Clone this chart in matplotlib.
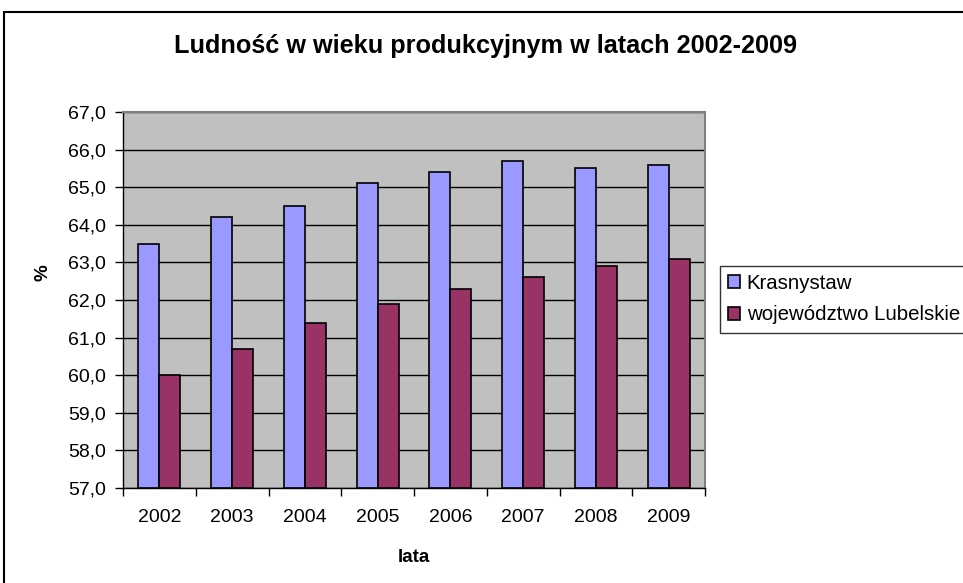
import matplotlib.pyplot as plt
import numpy as np
from matplotlib.patches import Rectangle
from matplotlib.ticker import FuncFormatter, FixedLocator

plt.rcParams["font.family"] = ["Liberation Sans", "DejaVu Sans"]

years = ["2002", "2003", "2004", "2005", "2006", "2007", "2008", "2009"]
krasnystaw = [63.5, 64.2, 64.5, 65.1, 65.4, 65.7, 65.5, 65.6]
lubelskie = [60.0, 60.7, 61.4, 61.9, 62.3, 62.6, 62.9, 63.1]
series_names = ["Krasnystaw", "województwo Lubelskie"]

W, H = 963, 583
fig = plt.figure(figsize=(W / 100, H / 100), dpi=100)
ax = fig.add_axes([123 / W, 1 - 488 / H, (705 - 123) / W, (488 - 112) / H])
ax.set_facecolor("#C0C0C0")

x = np.arange(len(years))
bw = 0.29
ymin = 57.0
ax.bar(x - bw / 2, np.array(krasnystaw) - ymin, bw, bottom=ymin, color="#9999FF",
       edgecolor="black", linewidth=1.2, label=series_names[0], zorder=3)
ax.bar(x + bw / 2, np.array(lubelskie) - ymin, bw, bottom=ymin, color="#993366",
       edgecolor="black", linewidth=1.2, label=series_names[1], zorder=3)

ax.set_ylim(57, 67)
ax.set_xlim(-0.5, len(years) - 0.5)
ax.set_yticks(np.arange(57, 67.1, 1))
ax.yaxis.set_major_formatter(FuncFormatter(lambda v, p: f"{v:.1f}".replace(".", ",")))
ax.grid(axis="y", color="black", linewidth=1, zorder=1)
ax.set_axisbelow(True)

ax.xaxis.set_major_locator(FixedLocator(np.arange(-0.5, len(years), 1)))
ax.xaxis.set_major_formatter(FuncFormatter(lambda v, p: ""))
ax.xaxis.set_minor_locator(FixedLocator(x))
ax.set_xticklabels(years, minor=True)
ax.tick_params(axis="x", which="minor", length=0, pad=15, labelsize=14)
ax.tick_params(axis="x", which="major", length=6, direction="out", width=1)
ax.tick_params(axis="y", length=6, direction="out", width=1, labelsize=14, pad=6)

for side in ["top", "right"]:
    ax.spines[side].set_color("#808080")
    ax.spines[side].set_linewidth(1.5)
for side in ["left", "bottom"]:
    ax.spines[side].set_color("black")
    ax.spines[side].set_linewidth(1)

fig.text(414 / W, 1 - 557 / H, "lata", ha="center", va="center",
         fontsize=13.5, fontweight="bold")
fig.text(43 / W, 1 - 273 / H, "%", ha="center", va="center", rotation=90,
         fontsize=13.5, fontweight="bold")

fig.text(486 / W, 1 - 46 / H, "Ludność w wieku produkcyjnym w latach 2002-2009",
         ha="center", va="center", fontsize=18.2, fontweight="bold")

# outer chart frame
fig.add_artist(Rectangle((4 / W, -0.1), 1.2, 1.1 - 12 / H, transform=fig.transFigure,
                         fill=False, edgecolor="black", linewidth=1.5, clip_on=False))

leg = fig.legend(loc="upper left", bbox_to_anchor=(720 / W, 1 - 266 / H), fontsize=14.7,
                 frameon=True, fancybox=False, edgecolor="black", handlelength=0.6,
                 handleheight=0.6, handletextpad=0.3, borderpad=0.4, labelspacing=0.6,
                 borderaxespad=0)
leg.get_frame().set_linewidth(1)

fig.savefig("out.png", dpi=100)
